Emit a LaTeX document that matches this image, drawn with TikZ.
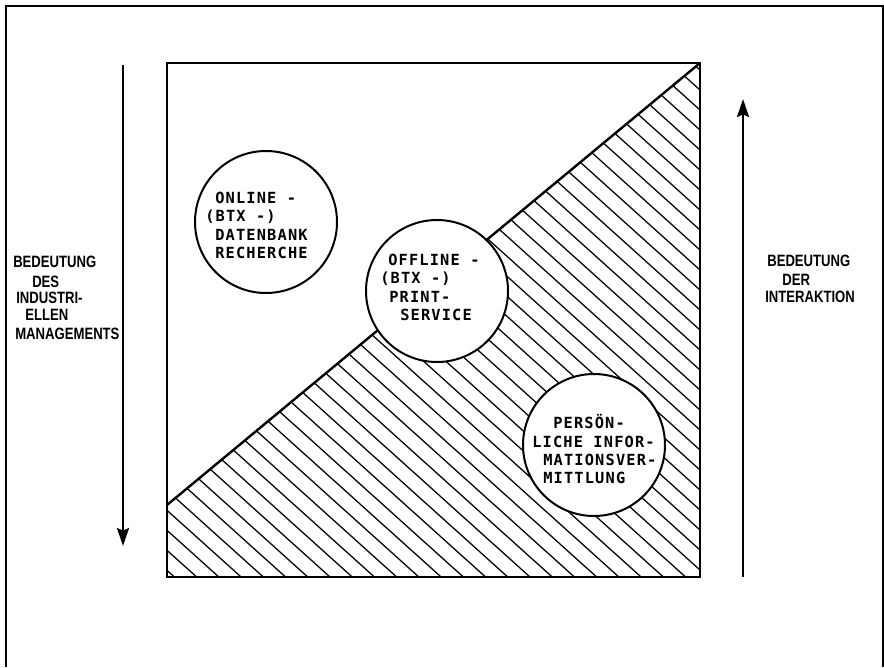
\documentclass[tikz,border=0pt]{standalone}
\usepackage{fontspec}
\usetikzlibrary{arrows.meta}
\newfontfamily\monofont[LetterSpace=7.6]{DejaVu Sans Mono}
\newfontfamily\labfont[FakeStretch=0.8]{Liberation Sans}
\begin{document}
\begin{tikzpicture}[x=0.75pt,y=-0.75pt,
  mono/.style={font=\monofont\bfseries\fontsize{11.5}{13}\selectfont, inner sep=0pt, anchor=base west},
  lab/.style={font=\labfont\bfseries\fontsize{12.3}{14}\selectfont, inner sep=0pt, anchor=base west},
  hatch/.style={line width=0.95pt},
  bubble/.style={circle, draw, fill=white, line width=1.5pt, minimum size=106.5pt, inner sep=0pt},
  axisarrow/.style={line width=1.9pt, -{Stealth[length=13.5pt,width=9pt,inset=2pt]}}]
\useasboundingbox (0,0) rectangle (884,667);
% outer frame
\draw[line width=1.4pt] (6,667) -- (6,6) -- (883,6) -- (883,667);
% hatching
\begin{scope}
\clip (167,505) -- (700,63) -- (700,577) -- (167,577) -- cycle;
\foreach \c in {-600,-580,...,460} {
  \draw[hatch] (100,{\c+90}) -- (800,{\c+720});
}
\end{scope}
% square and diagonal
\coordinate (sqa) at (167,505);
\coordinate (sqb) at (700,63);
\draw[line width=1.8pt] (sqa) -- (sqb);
\draw[line width=1.8pt] (167,63) rectangle (700,577);
% circles
\node[bubble] (c1) at (266,222) {};
\node[bubble] (c2) at (437,291) {};
\node[bubble] (c3) at (594,445) {};
% circle texts
\node[mono] (a1) at (215,203) {ONLINE -};
\node[mono] (a2) at (205,221.5) {(BTX -)};
\node[mono] (a3) at (215,240) {DATENBANK};
\node[mono] (a4) at (215,258) {RECHERCHE};
\node[mono] (b1) at (388,265) {OFFLINE -};
\node[mono] (b2) at (380,283.5) {(BTX -)};
\node[mono] (b3) at (389,302) {PRINT-};
\node[mono] (b4) at (400,320) {SERVICE};
\node[mono] (d1) at (553,428.5) {PERSÖN-};
\node[mono] (d2) at (532,447) {LICHE INFOR-};
\node[mono] (d3) at (543,465.5) {MATIONSVER-};
\node[mono] (d4) at (543,483.5) {MITTLUNG};
% side labels
\node[lab] (l1) at (13,267) {BEDEUTUNG};
\node[lab] (l2) at (32,287) {DES};
\node[lab] (l3) at (16,303) {INDUSTRI-};
\node[lab] (l4) at (25,320) {ELLEN};
\node[lab] (l5) at (15,339) {MANAGEMENTS};
\node[lab] (r1) at (767,266) {BEDEUTUNG};
\node[lab] (r2) at (782,285) {DER};
\node[lab] (r3) at (765,302.5) {INTERAKTION};
% arrows
\coordinate (la1) at (123,65);
\coordinate (la2) at (123,546);
\coordinate (ra1) at (743,577);
\coordinate (ra2) at (743,99);
\draw[axisarrow] (la1) -- (la2);
\draw[axisarrow] (ra1) -- (ra2);
\end{tikzpicture}
\end{document}
